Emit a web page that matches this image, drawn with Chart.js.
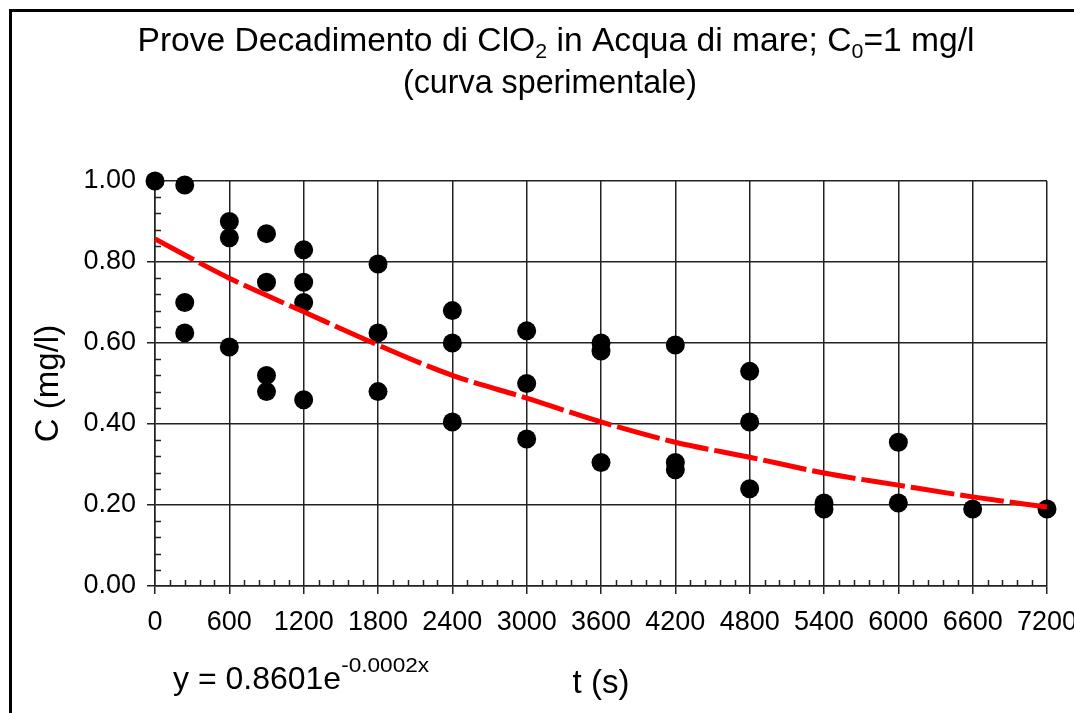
<!DOCTYPE html>
<html>
<head>
<meta charset="utf-8">
<script src="https://cdn.jsdelivr.net/npm/chart.js@4.4.1/dist/chart.umd.min.js"></script>
<style>
  html, body { margin: 0; padding: 0; background: #fff; }
  #wrap { width: 1074px; height: 713px; }
</style>
</head>
<body>
<div id="wrap"><canvas id="chart" width="1074" height="713"></canvas></div>
<script>
// time (s) of each measurement and the concentration read (mg/l)
const timeS = [
  0,
  240, 240, 240,
  600, 600, 600,
  900, 900, 900, 900,
  1200, 1200, 1200, 1200,
  1800, 1800, 1800,
  2400, 2400, 2400,
  3000, 3000, 3000,
  3600, 3600, 3600,
  4200, 4200, 4200,
  4800, 4800, 4800,
  5400, 5400,
  6000, 6000,
  6600,
  7200
];
const concMgL = [
  1.00,
  0.99, 0.70, 0.625,
  0.90, 0.86, 0.59,
  0.87, 0.75, 0.52, 0.48,
  0.83, 0.75, 0.70, 0.46,
  0.795, 0.625, 0.48,
  0.68, 0.60, 0.405,
  0.63, 0.50, 0.363,
  0.60, 0.58, 0.305,
  0.595, 0.305, 0.287,
  0.53, 0.405, 0.24,
  0.205, 0.19,
  0.355, 0.205,
  0.19,
  0.19
];

// red trend line at each major tick
const trendX = [0, 600, 1200, 1800, 2400, 3000, 3600, 4200, 4800, 5400, 6000, 6600, 7200];
const trendY = [0.857, 0.76, 0.677, 0.595, 0.52, 0.464, 0.405, 0.355, 0.318, 0.279, 0.249, 0.22, 0.195];

const xTicks = [0, 600, 1200, 1800, 2400, 3000, 3600, 4200, 4800, 5400, 6000, 6600, 7200];
const yTicks = [0, 0.2, 0.4, 0.6, 0.8, 1.0];

const FONT = "'Liberation Sans', Arial, Helvetica, sans-serif";

// title, equation, frame and minor ticks
const decorations = {
  id: 'decorations',
  afterDraw(chart) {
    const ctx = chart.ctx;
    const xs = chart.scales.x, ys = chart.scales.y;
    ctx.save();

    // outer frame (top and left only)
    ctx.strokeStyle = '#000';
    ctx.lineWidth = 3;
    ctx.beginPath();
    ctx.moveTo(1074, 10.5);
    ctx.lineTo(10.5, 10.5);
    ctx.lineTo(10.5, 713);
    ctx.stroke();

    // minor ticks
    ctx.lineWidth = 1.5;
    ctx.strokeStyle = '#222';
    ctx.beginPath();
    for (let v = 120; v < 7200; v += 120) {
      if (v % 600 === 0) continue;
      const px = Math.round(xs.getPixelForValue(v)) + 0.5;
      ctx.moveTo(px, xs.top);
      ctx.lineTo(px, xs.top - 6);
    }
    for (let i = 1; i < 25; i++) {
      if (i % 5 === 0) continue;
      const py = Math.round(ys.getPixelForValue(i * 0.04)) + 0.5;
      ctx.moveTo(ys.right, py);
      ctx.lineTo(ys.right + 6, py);
    }
    ctx.stroke();

    ctx.fillStyle = '#000';
    ctx.textBaseline = 'alphabetic';

    // title with subscripts, condensed like the original
    const big = '33px ' + FONT, small = '21px ' + FONT;
    const parts = [
      ['Prove Decadimento di ClO', 0], ['2', 1], [' in Acqua di mare; C', 0], ['0', 1], ['=1 mg/l', 0]
    ];
    let w = 0;
    parts.forEach(p => { ctx.font = p[1] ? small : big; w += ctx.measureText(p[0]).width; });
    ctx.save();
    ctx.translate(556 - 837 / 2, 51);
    ctx.scale(837 / w, 1);
    let cx = 0;
    parts.forEach(p => {
      ctx.font = p[1] ? small : big;
      ctx.fillText(p[0], cx, p[1] ? 7 : 0);
      cx += ctx.measureText(p[0]).width;
    });
    ctx.restore();

    ctx.font = big;
    const l2 = '(curva sperimentale)';
    const w2 = ctx.measureText(l2).width;
    ctx.save();
    ctx.translate(550 - 294 / 2, 93);
    ctx.scale(294 / w2, 1);
    ctx.fillText(l2, 0, 0);
    ctx.restore();

    // trendline equation
    ctx.font = '32px ' + FONT;
    ctx.textAlign = 'left';
    const eq = 'y = 0.8601e';
    ctx.fillText(eq, 173, 689);
    const ew = ctx.measureText(eq).width;
    ctx.font = '20px ' + FONT;
    const sup = '-0.0002x';
    const sw = ctx.measureText(sup).width;
    ctx.save();
    ctx.translate(173 + ew, 672);
    ctx.scale(88 / sw, 1);
    ctx.fillText(sup, 0, 0);
    ctx.restore();

    ctx.restore();
  }
};

new Chart(document.getElementById('chart'), {
  type: 'scatter',
  data: {
    datasets: [
      {
        label: 'Trend',
        data: trendX.map((x, i) => ({ x: x, y: trendY[i] })),
        showLine: true,
        borderColor: '#ff0000',
        borderWidth: 5,
        borderDash: [44, 6],
        borderCapStyle: 'butt',
        cubicInterpolationMode: 'monotone',
        pointRadius: 0,
        pointHoverRadius: 0,
        fill: false,
        clip: false,
        order: 0
      },
      {
        label: 'C',
        data: timeS.map((t, i) => ({ x: t, y: concMgL[i] })),
        backgroundColor: '#000',
        borderColor: '#000',
        pointRadius: 9.5,
        pointHoverRadius: 9.5,
        borderWidth: 0,
        clip: false,
        order: 1
      }
    ]
  },
  options: {
    responsive: false,
    animation: false,
    events: [],
    layout: { padding: { top: 181, right: 27, bottom: 0, left: 0 } },
    plugins: {
      legend: { display: false },
      title: { display: false },
      tooltip: { enabled: false }
    },
    scales: {
      x: {
        type: 'linear',
        min: 0,
        max: 7200,
        afterBuildTicks: (scale) => { scale.ticks = xTicks.map(v => ({ value: v })); },
        afterFit: (scale) => { scale.height = 127; scale.paddingLeft = 0; scale.paddingRight = 0; },
        ticks: {
          color: '#000',
          font: { family: FONT, size: 27 },
          padding: 12,
          maxRotation: 0,
          autoSkip: false,
          callback: (v) => String(v)
        },
        grid: { color: '#222', lineWidth: 1.5, tickLength: 8, tickColor: '#222' },
        border: { color: '#222', width: 1.5 },
        title: {
          display: true,
          text: 't (s)',
          color: '#000',
          font: { family: FONT, size: 33 },
          padding: { top: 0, bottom: 9 }
        }
      },
      y: {
        type: 'linear',
        min: 0,
        max: 1,
        afterBuildTicks: (scale) => { scale.ticks = yTicks.map(v => ({ value: v })); },
        afterFit: (scale) => { scale.width = 155; },
        ticks: {
          color: '#000',
          font: { family: FONT, size: 27 },
          padding: 11,
          callback: (v) => Number(v).toFixed(2)
        },
        grid: { color: '#222', lineWidth: 1.5, tickLength: 8, tickColor: '#222' },
        border: { color: '#222', width: 1.5 },
        title: {
          display: true,
          text: 'C (mg/l)',
          color: '#000',
          font: { family: FONT, size: 33 },
          padding: { top: 29, bottom: 0 }
        }
      }
    }
  },
  plugins: [decorations]
});
</script>
</body>
</html>
